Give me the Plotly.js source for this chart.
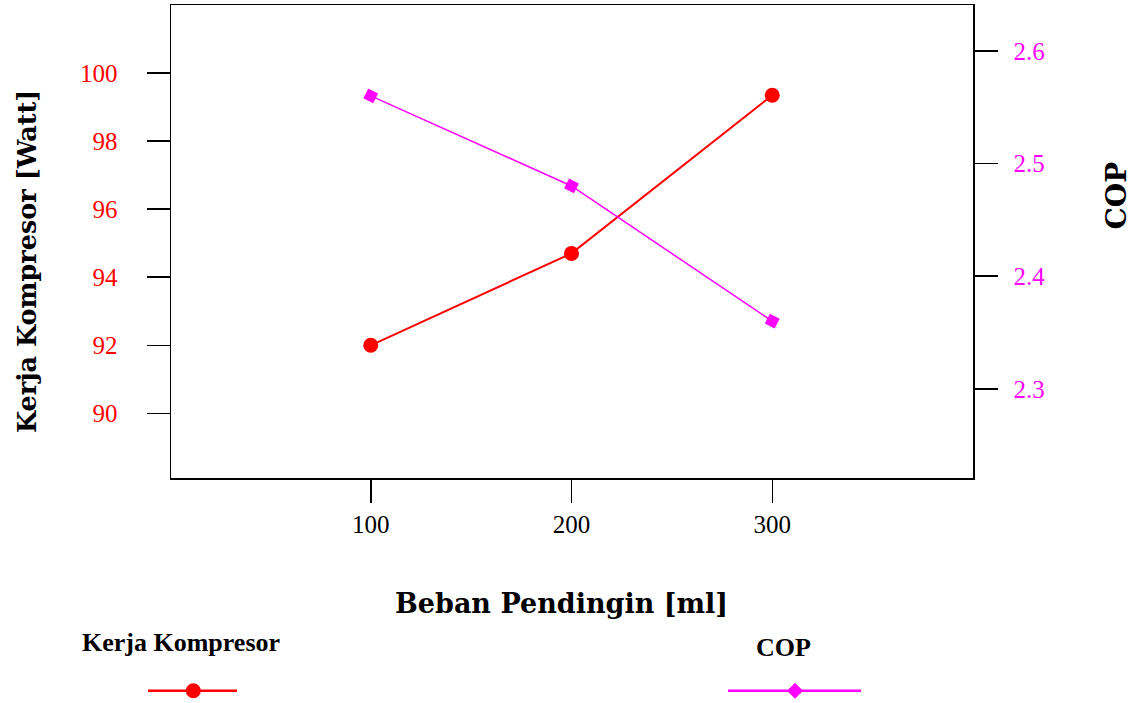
<!DOCTYPE html>
<html>
<head>
<meta charset="utf-8">
<script src="https://cdn.plot.ly/plotly-3.0.1.min.js"></script>
<style>html,body{margin:0;padding:0;background:#fff;}#chart{width:1139px;height:703px;}</style>
</head>
<body>
<div id="chart"></div>
<script>
const beban = [100, 200, 300];
const kerjaKompresor = [92.0, 94.7, 99.35];
const cop = [2.56, 2.48, 2.36];
const xTicks = [100, 200, 300];
const leftTicks = [90, 92, 94, 96, 98, 100];
const rightTicks = [2.3, 2.4, 2.5, 2.6];

const serif = "Liberation Serif, Times New Roman, serif";
const titleFont = "DejaVu Serif, serif";

const traces = [
  {x: beban, y: kerjaKompresor, type: 'scatter', mode: 'lines+markers', name: 'Kerja Kompresor',
   line: {color: '#ff0000', width: 2}, marker: {symbol: 'circle', size: 15, color: '#ff0000'}, xaxis: 'x', yaxis: 'y'},
  {x: beban, y: cop, type: 'scatter', mode: 'lines+markers', name: 'COP',
   line: {color: '#ff00ff', width: 1.5}, marker: {symbol: 'square', size: 11, color: '#ff00ff', angle: 27}, xaxis: 'x', yaxis: 'y2'}
];

const axisCommon = {showgrid: false, zeroline: false, showline: true, linecolor: '#000', linewidth: 1.5,
  ticks: 'outside', ticklen: 23, tickwidth: 1.5, tickcolor: '#000'};

const layout = {
  width: 1139, height: 703,
  margin: {l: 171, r: 166, t: 5, b: 225},
  paper_bgcolor: '#fff', plot_bgcolor: '#fff',
  showlegend: false,
  font: {family: serif, size: 25, color: '#000'},
  xaxis: Object.assign({}, axisCommon, {range: [0.5, 400], tickmode: 'array', tickvals: xTicks,
    ticktext: xTicks.map(String), mirror: true, tickfont: {family: serif, size: 25, color: '#000'}}),
  yaxis: Object.assign({}, axisCommon, {range: [88.1, 102], tickmode: 'array', tickvals: leftTicks,
    ticktext: leftTicks.map(String), ticklabelstandoff: 24, tickfont: {family: serif, size: 25, color: '#ff0000'}}),
  yaxis2: Object.assign({}, axisCommon, {range: [2.2208, 2.6406], overlaying: 'y', side: 'right', tickmode: 'array',
    tickvals: rightTicks, ticktext: rightTicks.map(v => v.toFixed(1)), ticklabelstandoff: 11,
    tickfont: {family: serif, size: 25, color: '#ff00ff'}}),
  annotations: [
    {text: 'Beban Pendingin [ml]', xref: 'paper', yref: 'paper', x: (561.5-171)/802, y: (478-603)/473,
     xanchor: 'center', yanchor: 'middle', showarrow: false, font: {family: titleFont, size: 27, color: '#000', weight: 'bold'}},
    {text: 'Kerja Kompresor [Watt]', xref: 'paper', yref: 'paper', x: (27-171)/802, y: (478-262)/473, textangle: -90,
     xanchor: 'center', yanchor: 'middle', showarrow: false, font: {family: titleFont, size: 25.5, color: '#000', weight: 'bold'}},
    {text: 'COP', xref: 'paper', yref: 'paper', x: (1116-171)/802, y: (478-195.5)/473, textangle: -90,
     xanchor: 'center', yanchor: 'middle', showarrow: false, font: {family: titleFont, size: 28, color: '#000', weight: 'bold'}},
    {text: 'Kerja Kompresor', xref: 'paper', yref: 'paper', x: (181-171)/802, y: (478-642)/473,
     xanchor: 'center', yanchor: 'middle', showarrow: false, font: {family: serif, size: 26, color: '#000', weight: 'bold'}},
    {text: 'COP', xref: 'paper', yref: 'paper', x: (783.5-171)/802, y: (478-647)/473,
     xanchor: 'center', yanchor: 'middle', showarrow: false, font: {family: serif, size: 26, color: '#000', weight: 'bold'}}
  ],
  shapes: [
    {type: 'line', xref: 'paper', yref: 'paper', x0: (148-171)/802, x1: (237-171)/802, y0: (478-690.7)/473, y1: (478-690.7)/473,
     line: {color: '#ff0000', width: 2.5}},
    {type: 'circle', xref: 'paper', yref: 'paper', xsizemode: 'pixel', ysizemode: 'pixel',
     xanchor: (193.3-171)/802, yanchor: (478-690.7)/473, x0: -7.5, x1: 7.5, y0: -7.5, y1: 7.5,
     fillcolor: '#ff0000', line: {width: 0}},
    {type: 'line', xref: 'paper', yref: 'paper', x0: (728-171)/802, x1: (861-171)/802, y0: (478-690.7)/473, y1: (478-690.7)/473,
     line: {color: '#ff00ff', width: 2.5}},
    {type: 'path', xref: 'paper', yref: 'paper', xsizemode: 'pixel', ysizemode: 'pixel',
     xanchor: (795-171)/802, yanchor: (478-690.7)/473, path: 'M 0 8 L 8 0 L 0 -8 L -8 0 Z',
     fillcolor: '#ff00ff', line: {width: 0}}
  ]
};

Plotly.newPlot('chart', traces, layout, {displayModeBar: false, staticPlot: true});
</script>
</body>
</html>
